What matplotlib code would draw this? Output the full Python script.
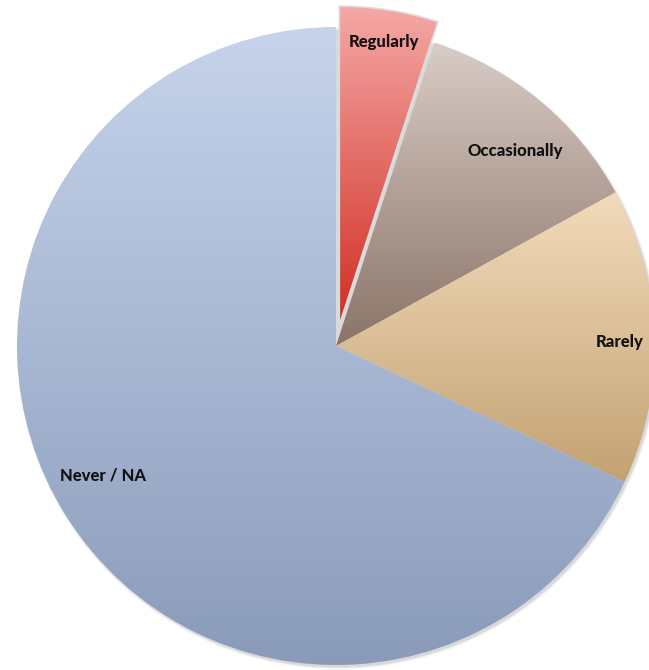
import numpy as np
import matplotlib.pyplot as plt
from matplotlib.colors import to_rgb

labels = ['Regularly', 'Occasionally', 'Rarely', 'Never / NA']
shares = [5, 12, 15, 68]
explode = [0.066, 0, 0, 0]

# top / bottom colour of each slice's vertical gradient
top_colors = ['#f5a8a6', '#d9ccc6', '#f2dbbb', '#c6d3eb']
bottom_colors = ['#d02e22', '#8a7468', '#c3a273', '#8a9bba']
label_dist = [0.9, 0.83, 0.89, 0.835]
label_shift = [0, -2.9, -1.0, -3.4]  # degrees


def gradient(top, bottom, n=256):
    t = np.linspace(0, 1, n)[:, None]
    a, b = np.array(to_rgb(top)), np.array(to_rgb(bottom))
    return (a * (1 - t) + b * t)[:, None, :]


R = 319.0
cx, cy = 336.0, 346.0
W, H = 649, 670

fig = plt.figure(figsize=(W / 100, H / 100), dpi=100)
ax = fig.add_axes([0, 0, 1, 1])

wedges, _ = ax.pie(shares, startangle=90, counterclock=False, explode=explode,
                   radius=1, center=(0, 0), frame=True,
                   wedgeprops=dict(linewidth=0))
ax.set_aspect('auto')
ax.axis('off')
wedges[0].set_edgecolor('#dcdcdc')
wedges[0].set_linewidth(1.2)

# soft shadow under the pie
for k, a in enumerate([0.12, 0.07, 0.04]):
    sh = plt.Circle((0.006, -0.008), 1 + 0.003 * k, color='#555555', alpha=a, zorder=0.5, lw=0)
    ax.add_patch(sh)

for w, top, bot, lab, d, s in zip(wedges, top_colors, bottom_colors, labels, label_dist, label_shift):
    v = w.get_path().vertices
    x0, x1 = v[:, 0].min(), v[:, 0].max()
    y0, y1 = v[:, 1].min(), v[:, 1].max()
    im = ax.imshow(gradient(top, bot), extent=(x0, x1, y0, y1), origin='upper',
                   aspect='auto', zorder=1, interpolation='bilinear')
    im.set_clip_path(w)
    w.set_facecolor('none')
    w.set_zorder(2)
    ang = np.deg2rad((w.theta1 + w.theta2) / 2 + s)
    c = w.center
    ax.text(c[0] + d * np.cos(ang), c[1] + d * np.sin(ang), lab,
            ha='center', va='center', fontsize=12, fontweight='black',
            family=['Lato', 'DejaVu Sans'], color='#111111', zorder=3)

ax.set_xlim(-cx / R, (W - cx) / R)
ax.set_ylim(-(H - cy) / R, cy / R)
fig.savefig('out.png', dpi=100)
